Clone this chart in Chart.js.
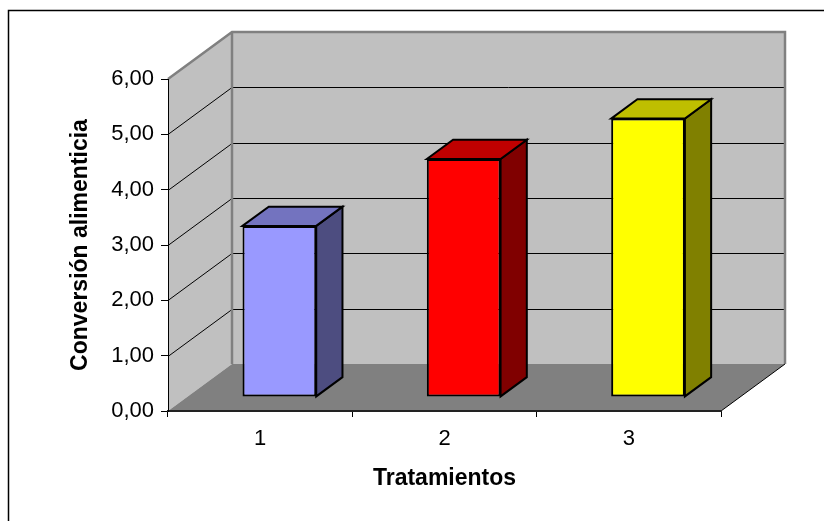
<!DOCTYPE html>
<html>
<head>
<meta charset="utf-8">
<script src="https://cdn.jsdelivr.net/npm/chart.js@4/dist/chart.umd.min.js"></script>
<style>
  html, body { margin: 0; padding: 0; background: #fff; }
  #wrap { width: 824px; height: 521px; position: relative; }
</style>
</head>
<body>
<div id="wrap"><canvas id="c" width="824" height="521"></canvas></div>
<script>
// Data
const categories = ['1', '2', '3'];
const conversion = [3.09, 4.30, 5.03];
const yTicks = [0, 1, 2, 3, 4, 5, 6];

// Face colours of each column (front, top, side)
const frontColors = ['#9999FF', '#FF0000', '#FFFF00'];
const topColors = ['#7373BF', '#BF0000', '#BFBF00'];
const sideColors = ['#4D4D80', '#800000', '#808000'];

// Oblique depth of the box and placement of the columns inside it
const DX = 64, DY = 47;
const BAR_FRONT = 0.30;   // fraction of depth before the column's front face
const BAR_DEPTH = 0.41;   // fraction of depth taken by the column

Chart.defaults.font.family = "'Liberation Sans', Arial, sans-serif";
Chart.defaults.color = '#000';

function poly(ctx, pts) {
  ctx.beginPath();
  ctx.moveTo(pts[0][0], pts[0][1]);
  for (let i = 1; i < pts.length; i++) ctx.lineTo(pts[i][0], pts[i][1]);
  ctx.closePath();
}

const box3d = {
  id: 'box3d',
  beforeDraw(chart) {
    const { ctx, chartArea: a, scales: { y } } = chart;
    ctx.save();
    // outer frame
    ctx.strokeStyle = '#000';
    ctx.lineWidth = 1.5;
    ctx.strokeRect(8.5, 10.5, 1200, 1200);

    const L = a.left, R = a.right, T = a.top, B = a.bottom;
    // walls
    ctx.fillStyle = '#C0C0C0';
    poly(ctx, [[L, T], [L + DX, T - DY], [L + DX, B - DY], [L, B]]);
    ctx.fill();
    poly(ctx, [[L + DX, T - DY], [R + DX, T - DY], [R + DX, B - DY], [L + DX, B - DY]]);
    ctx.fill();
    // floor
    ctx.fillStyle = '#808080';
    poly(ctx, [[L, B], [R, B], [R + DX, B - DY], [L + DX, B - DY]]);
    ctx.fill();

    // gridlines on the walls
    ctx.strokeStyle = '#000';
    ctx.lineWidth = 1;
    yTicks.forEach(v => {
      if (v === y.min || v === y.max) return;
      const py = Math.round(y.getPixelForValue(v)) + 0.5;
      ctx.beginPath();
      ctx.moveTo(L, py);
      ctx.lineTo(L + DX, py - DY);
      ctx.lineTo(R + DX, py - DY);
      ctx.stroke();
    });

    // wall edges
    ctx.strokeStyle = '#808080';
    ctx.lineWidth = 2.5;
    ctx.beginPath();
    ctx.moveTo(L, T);
    ctx.lineTo(L + DX, T - DY);
    ctx.lineTo(R + DX, T - DY);
    ctx.lineTo(R + DX, B - DY);
    ctx.moveTo(L + DX, T - DY);
    ctx.lineTo(L + DX, B - DY);
    ctx.stroke();

    // right edge of the floor
    ctx.strokeStyle = '#000';
    ctx.lineWidth = 1;
    ctx.beginPath();
    ctx.moveTo(R, B);
    ctx.lineTo(R + DX, B - DY);
    ctx.stroke();
    ctx.restore();
  },
  beforeDatasetsDraw(chart) {
    const ctx = chart.ctx;
    ctx.save();
    ctx.translate(BAR_FRONT * DX, -BAR_FRONT * DY);
    const bdx = BAR_DEPTH * DX, bdy = BAR_DEPTH * DY;
    chart.getDatasetMeta(0).data.forEach((el, i) => {
      const { x, y, base, width } = el.getProps(['x', 'y', 'base', 'width'], true);
      const x1 = x - width / 2, x2 = x + width / 2;
      ctx.lineWidth = 2;
      ctx.strokeStyle = '#000';
      ctx.lineJoin = 'miter';
      // side face
      ctx.fillStyle = sideColors[i];
      poly(ctx, [[x2, y], [x2 + bdx, y - bdy], [x2 + bdx, base - bdy], [x2, base]]);
      ctx.fill();
      ctx.stroke();
      // top face
      ctx.fillStyle = topColors[i];
      poly(ctx, [[x1, y], [x1 + bdx, y - bdy], [x2 + bdx, y - bdy], [x2, y]]);
      ctx.fill();
      ctx.stroke();
    });
  },
  afterDatasetsDraw(chart) {
    chart.ctx.restore();
  }
};

new Chart(document.getElementById('c'), {
  type: 'bar',
  data: {
    labels: categories,
    datasets: [{
      data: conversion,
      backgroundColor: frontColors,
      borderColor: '#000',
      borderWidth: 2,
      borderSkipped: false,
      categoryPercentage: 1,
      barPercentage: 0.40
    }]
  },
  options: {
    responsive: false,
    animation: false,
    devicePixelRatio: 1,
    layout: { padding: { top: 79, right: 103, left: 0, bottom: 0 } },
    plugins: { legend: { display: false }, tooltip: { enabled: false } },
    scales: {
      x: {
        offset: true,
        grid: { offset: true, drawOnChartArea: false, drawTicks: true, tickLength: 6, color: '#000', lineWidth: 1 },
        border: { display: true, color: '#222', width: 2 },
        ticks: { color: '#000', font: { size: 22 }, padding: 9 },
        title: {
          display: true, text: 'Tratamientos', color: '#000',
          font: { size: 23, weight: 'bold' }, padding: { top: 0, bottom: 29 }
        },
        afterFit(s) { s.height = 110; }
      },
      y: {
        min: 0, max: 6,
        afterBuildTicks(s) { s.ticks = yTicks.map(v => ({ value: v })); },
        grid: { drawOnChartArea: false, drawTicks: true, tickLength: 7, color: '#000', lineWidth: 1 },
        border: { display: true, color: '#000', width: 1 },
        ticks: {
          color: '#000', font: { size: 22 }, padding: 7,
          callback: v => Number(v).toFixed(2).replace('.', ',')
        },
        title: {
          display: true, text: 'Conversión alimenticia', color: '#000',
          font: { size: 23, weight: 'bold' }, padding: { top: 67, bottom: 0 }
        },
        afterFit(s) { s.width = 168; }
      }
    }
  },
  plugins: [box3d]
});
</script>
</body>
</html>
